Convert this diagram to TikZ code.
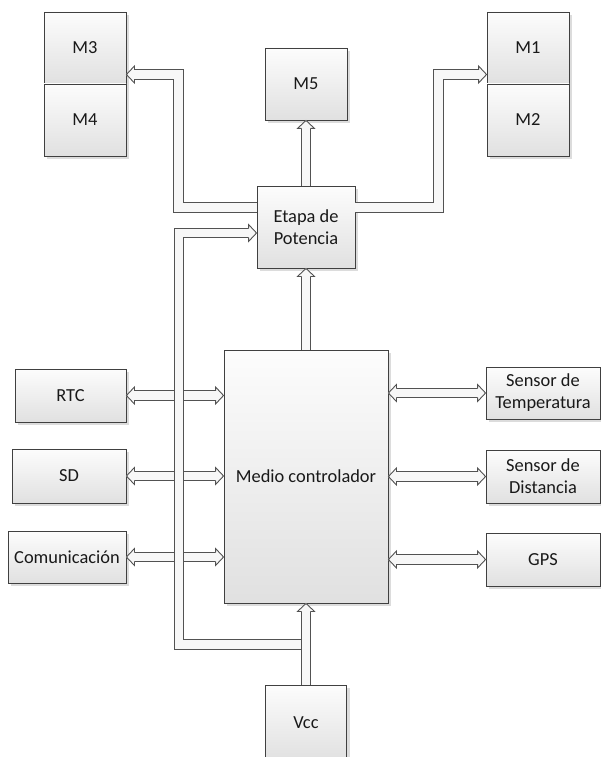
\documentclass[tikz,border=0pt]{standalone}
\usepackage{fontspec}
\setmainfont{Carlito}
\usetikzlibrary{calc,shadows}

\tikzset{
  blk/.style={draw=black!75, line width=0.9pt, top color=black!1, bottom color=black!12,
    inner sep=2pt, align=center, text=black!90,
    font=\fontsize{18.4pt}{22pt}\selectfont,
    drop shadow={shadow xshift=3pt, shadow yshift=-3pt, fill=black!30, opacity=0.45}},
  band/.style={draw=black!68, line width=0.9pt, double=black!3, double distance=8.5pt},
  headgap/.style={shorten >=7.5pt},
  tailgap/.style={shorten <=7.5pt},
  hollowhead/.pic={
    \fill[black!3] (0.6,0) -- (-8,-8.5) -- (-8,8.5) -- cycle;
    \draw[black!68, line width=0.9pt, line join=miter]
      (-8,-4.7) -- (-8,-8.5) -- (0,0) -- (-8,8.5) -- (-8,4.7);
  }
}

\begin{document}
\begin{tikzpicture}[x=1pt, y=-1pt]
\useasboundingbox (0,0) rectangle (601,757);
\clip (0,0) rectangle (601,757);

% motor blocks
\node[blk, minimum width=82pt, minimum height=72pt] (m3) at (85,48) {M3};
\node[blk, minimum width=82pt, minimum height=72pt] (m4) at (85,120) {M4};
\node[blk, minimum width=82pt, minimum height=72pt] (m5) at (306,84) {M5};
\node[blk, minimum width=82pt, minimum height=72pt] (m1) at (528,48) {M1};
\node[blk, minimum width=82pt, minimum height=72pt] (m2) at (528,120) {M2};

% power stage and controller
\node[blk, minimum width=98pt, minimum height=82pt] (etapa) at (306,227) {Etapa de\\Potencia};
\node[blk, minimum width=164pt, minimum height=253pt] (medio) at (306,476.5) {Medio controlador};
\node[blk, minimum width=81pt, minimum height=76pt] (vcc) at (306,723) {Vcc};

% peripherals
\node[blk, minimum width=111pt, minimum height=53pt] (rtc) at (70.5,395.5) {RTC};
\node[blk, minimum width=114pt, minimum height=54pt] (sd) at (69,476) {SD};
\node[blk, minimum width=118pt, minimum height=52pt] (com) at (67,557) {Comunicación};
\node[blk, minimum width=114pt, minimum height=52pt] (temp) at (543,393) {Sensor de\\Temperatura};
\node[blk, minimum width=114pt, minimum height=53pt] (dist) at (543,476.5) {Sensor de\\Distancia};
\node[blk, minimum width=114pt, minimum height=53pt] (gps) at (543,559.5) {GPS};

% bidirectional links to the controller
\foreach \p in {rtc, sd, com} {
  \draw[band, headgap, tailgap] (\p.east) -- (\p.east -| medio.west);
  \pic[rotate=180] at (\p.east) {hollowhead};
  \pic at (\p.east -| medio.west) {hollowhead};
}
\foreach \p in {temp, dist, gps} {
  \draw[band, headgap, tailgap] (\p.west -| medio.east) -- (\p.west);
  \pic at (\p.west) {hollowhead};
  \pic[rotate=180] at (\p.west -| medio.east) {hollowhead};
}

% supply lines
\coordinate (vj) at ($(vcc.north)+(0,-40)$);
\coordinate (etin) at ($(etapa.west)+(0,6)$);
\draw[band, headgap] (vj) -- ++(-127,0) |- (etin);
\pic at (etin) {hollowhead};
\draw[band, headgap] (vcc.north) -- (medio.south);
\pic[rotate=90] at (medio.south) {hollowhead};

% controller to power stage
\draw[band, headgap] (medio.north) -- (etapa.south);
\pic[rotate=90] at (etapa.south) {hollowhead};

% power stage to motors
\draw[band, headgap] (etapa.north) -- (m5.south);
\pic[rotate=90] at (m5.south) {hollowhead};

\coordinate (etl) at ($(etapa.west)+(0,-19.5)$);
\coordinate (etr) at ($(etapa.east)+(0,-19.5)$);
\coordinate (m3in) at ($(m3.east)+(0,26.5)$);
\coordinate (m1in) at ($(m1.west)+(0,26.5)$);
\draw[band, headgap] (etl) -- ++(-78,0) |- (m3in);
\pic[rotate=180] at (m3in) {hollowhead};
\draw[band, headgap] (etr) -- ++(83,0) |- (m1in);
\pic at (m1in) {hollowhead};
\end{tikzpicture}
\end{document}
